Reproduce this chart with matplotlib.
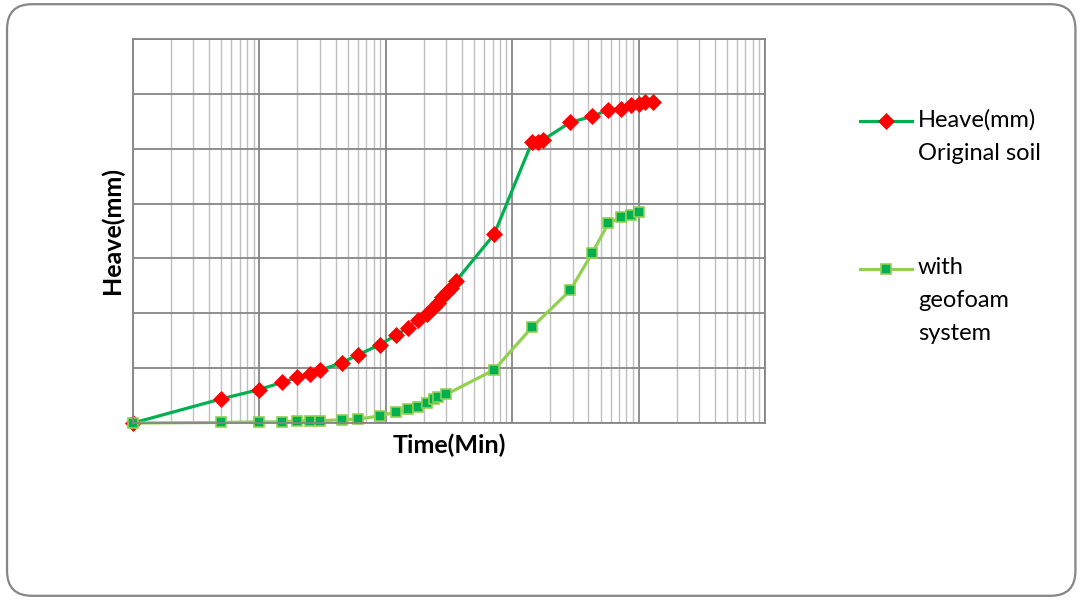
import numpy as np
import matplotlib.pyplot as plt
from matplotlib.patches import FancyBboxPatch
from matplotlib.lines import Line2D
from matplotlib.ticker import LogLocator, NullFormatter, MultipleLocator

plt.rcParams['font.family'] = ['Lato', 'DejaVu Sans']

# heave readings, original soil
t_soil = [0.1, 0.5, 1, 1.5, 2, 2.5, 3, 4.5, 6, 9, 12, 15, 18, 21, 24, 26, 28, 30.5, 33, 36,
          72, 144, 160, 175, 288, 430, 576, 720, 864, 1000, 1120, 1290]
h_soil = [0, 0.44, 0.61, 0.74, 0.83, 0.90, 0.96, 1.10, 1.24, 1.43, 1.60, 1.74, 1.88, 1.99, 2.11,
          2.19, 2.29, 2.38, 2.47, 2.59, 3.44, 5.13, 5.13, 5.16, 5.48, 5.59, 5.71, 5.73, 5.79,
          5.82, 5.85, 5.86]

# heave readings with the geofoam layer
t_geo = [0.1, 0.5, 1, 1.5, 2, 2.5, 3, 4.5, 6, 9, 12, 15, 18, 21, 24, 26, 30,
         72, 144, 288, 430, 576, 720, 864, 1000]
h_geo = [0, 0.01, 0.02, 0.02, 0.04, 0.04, 0.04, 0.06, 0.07, 0.13, 0.20, 0.26, 0.30, 0.37, 0.43,
         0.48, 0.52, 0.97, 1.75, 2.42, 3.10, 3.64, 3.75, 3.80, 3.85]

soil_label = 'Heave(mm)\nOriginal soil'
geo_label = 'with\ngeofoam\nsystem'

DARK_GREEN = '#00B050'
LIGHT_GREEN = '#92D050'
RED = '#FF0000'

W, H = 1083, 600
fig = plt.figure(figsize=(W / 100, H / 100), dpi=100)

# rounded chart border
border = FancyBboxPatch((0.0065, 0.007), 0.9865, 0.986,
                        boxstyle='round,pad=0,rounding_size=0.023',
                        transform=fig.transFigure, fill=False,
                        edgecolor='#868686', linewidth=1.6, mutation_aspect=W / H)
fig.add_artist(border)

ax = fig.add_axes([133 / W, 1 - 423 / H, 632 / W, 384 / H])
ax.set_xscale('log')
ax.set_xlim(0.1, 10000)
ax.set_ylim(0, 7)

ax.xaxis.set_major_locator(LogLocator(base=10, numticks=10))
ax.xaxis.set_minor_locator(LogLocator(base=10, subs=np.arange(2, 10), numticks=100))
ax.xaxis.set_major_formatter(NullFormatter())
ax.xaxis.set_minor_formatter(NullFormatter())
ax.yaxis.set_major_locator(MultipleLocator(1))
ax.yaxis.set_major_formatter(NullFormatter())
ax.tick_params(which='both', length=0)

ax.grid(True, which='major', color='#868686', linewidth=1.3)
ax.grid(True, which='minor', axis='x', color='#BFBFBF', linewidth=1.0)
ax.set_axisbelow(True)
for s in ax.spines.values():
    s.set_color('#868686')
    s.set_linewidth(1.3)

soil_style = dict(color=DARK_GREEN, marker='D', markersize=8, markerfacecolor=RED,
                  markeredgecolor=RED, markeredgewidth=0.5)
geo_style = dict(color=LIGHT_GREEN, marker='s', markersize=7, markerfacecolor=DARK_GREEN,
                 markeredgecolor=LIGHT_GREEN, markeredgewidth=1.2)

ax.plot(t_soil, h_soil, linewidth=2.3, clip_on=False, **soil_style)
ax.plot(t_geo, h_geo, linewidth=2.3, clip_on=False, **geo_style)

ax.set_xlabel('Time(Min)', fontsize=18, fontweight='bold', labelpad=4)
ax.set_ylabel('Heave(mm)', fontsize=18, fontweight='bold', labelpad=3)

# legend keys beside the plot, first text line level with the key
for ky, text, style in [(121, soil_label, soil_style), (269, geo_label, geo_style)]:
    y = 1 - ky / H
    fig.add_artist(Line2D([860 / W, 912 / W], [y, y], linewidth=2.3, color=style['color'],
                          transform=fig.transFigure))
    fig.add_artist(Line2D([886 / W], [y], linestyle='none', transform=fig.transFigure,
                          **{k: v for k, v in style.items() if k != 'color'}))
    fig.text(918 / W, y + 12 / H, text, fontsize=17, va='top', ha='left',
             linespacing=1.72, transform=fig.transFigure)

plt.savefig('out.png', dpi=100)
